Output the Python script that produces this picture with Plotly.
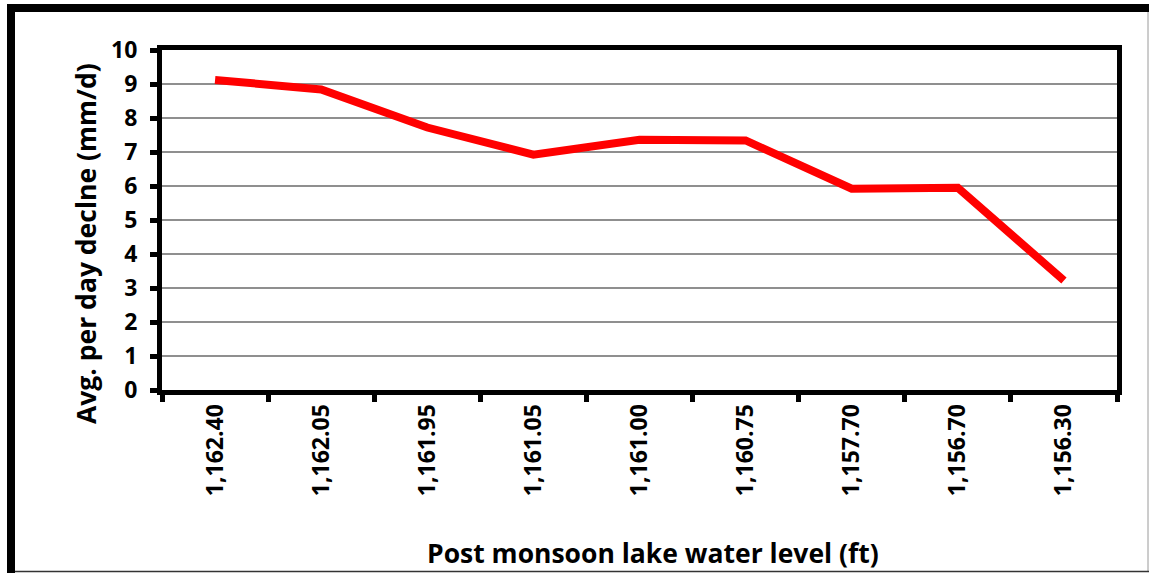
import plotly.graph_objects as go

# Post-monsoon lake level categories and average per-day decline
levels = ["1,162.40", "1,162.05", "1,161.95", "1,161.05", "1,161.00",
          "1,160.75", "1,157.70", "1,156.70", "1,156.30"]
decline = [9.12, 8.84, 7.72, 6.92, 7.36, 7.34, 5.92, 5.95, 3.22]
y_ticks = [0, 1, 2, 3, 4, 5, 6, 7, 8, 9, 10]

W, H = 1149, 573
L, R, T, B = 162, 1117, 50, 390  # plot area in pixels

FONT = "Open Sans"


def px_x(x):
    return (x - L) / (R - L)


def px_y(y):
    return (B - y) / (B - T)


fig = go.Figure()
fig.add_trace(go.Scatter(
    x=levels, y=decline, mode="lines",
    line=dict(color="#ff0000", width=8, shape="linear"),
    hoverinfo="x+y", showlegend=False,
))

axis_common = dict(
    showline=True, linecolor="black", linewidth=5, mirror=True,
    ticks="outside", ticklen=7, tickwidth=5, tickcolor="black",
    tickfont=dict(family=FONT, size=23, color="black", weight=700),
    zeroline=False,
)

fig.update_xaxes(
    type="category", range=[-0.5, len(levels) - 0.5],
    tickson="boundaries", tickangle=-90, showgrid=False,
    **axis_common,
)
fig.update_yaxes(
    range=[0, 10], tickvals=y_ticks, showgrid=True,
    gridcolor="#8f8f8f", gridwidth=2, ticklabelstandoff=8,
    **axis_common,
)

# Axis titles
fig.add_annotation(
    text="Avg. per day declne (mm/d)", xref="paper", yref="paper",
    x=px_x(86), y=px_y(244), xanchor="center", yanchor="middle",
    showarrow=False, textangle=-90,
    font=dict(family=FONT, size=26.5, color="black", weight=700),
)
fig.add_annotation(
    text="Post monsoon lake water level (ft)", xref="paper", yref="paper",
    x=px_x(653), y=px_y(553), xanchor="center", yanchor="middle",
    showarrow=False,
    font=dict(family=FONT, size=26.5, color="black", weight=700),
)

# Outer chart frame: heavy top/left edges, thin right/bottom edges
fig.add_shape(type="line", xref="paper", yref="paper",
              x0=px_x(11), x1=px_x(11), y0=px_y(4), y1=px_y(573),
              line=dict(color="black", width=8))
fig.add_shape(type="line", xref="paper", yref="paper",
              x0=px_x(7), x1=px_x(1149), y0=px_y(8), y1=px_y(8),
              line=dict(color="black", width=8))
fig.add_shape(type="line", xref="paper", yref="paper",
              x0=px_x(1148), x1=px_x(1148), y0=px_y(12), y1=px_y(572),
              line=dict(color="#9a9a9a", width=1))
fig.add_shape(type="line", xref="paper", yref="paper",
              x0=px_x(15), x1=px_x(1149), y0=px_y(571.5), y1=px_y(571.5),
              line=dict(color="#333333", width=1.5))

fig.update_layout(
    width=W, height=H,
    margin=dict(l=L, r=W - R, t=T, b=H - B, pad=0),
    paper_bgcolor="white", plot_bgcolor="white",
)

fig.write_html("out.html")
